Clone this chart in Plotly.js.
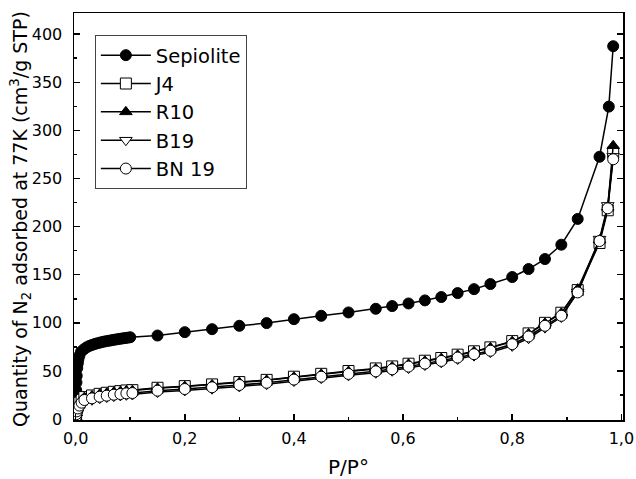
<!DOCTYPE html>
<html>
<head>
<meta charset="utf-8">
<script src="https://cdn.plot.ly/plotly-3.0.1.min.js"></script>
<style>html,body{margin:0;padding:0;background:#fff;}#chart{width:636px;height:479px;}</style>
</head>
<body>
<div id="chart"></div>
<script>
// Sepiolite isotherm
const sepP = [0.0001, 0.0003, 0.0006, 0.001, 0.0015, 0.002, 0.003, 0.004, 0.005, 0.007, 0.01, 0.015, 0.02, 0.025, 0.03, 0.035, 0.04, 0.045, 0.05, 0.055, 0.06, 0.065, 0.07, 0.075, 0.08, 0.085, 0.09, 0.095, 0.1,
  0.15, 0.2, 0.25, 0.3, 0.35, 0.4, 0.45, 0.5, 0.55, 0.58, 0.61, 0.64, 0.67, 0.70, 0.73, 0.76, 0.80, 0.83, 0.86, 0.89, 0.92, 0.96, 0.977, 0.985];
const sepV = [4, 12, 20, 30, 38, 45, 53, 58, 62, 66, 70, 72.5, 74.5, 76, 77, 78, 78.8, 79.5, 80.2, 80.8, 81.3, 81.8, 82.3, 82.8, 83.3, 83.7, 84.1, 84.5, 85,
  86.8, 90.3, 93.4, 96.9, 99.7, 103.8, 107.3, 110.8, 114.6, 117.4, 120.1, 123.3, 126.8, 130.9, 135, 140.3, 147.6, 155.9, 166.3, 181.2, 208, 272.6, 324.7, 387.5];

// Common relative pressures for the modified samples
const modP = [0.0003, 0.001, 0.002, 0.004, 0.007, 0.011, 0.016, 0.03, 0.044, 0.057, 0.07, 0.082, 0.093, 0.104,
  0.15, 0.2, 0.25, 0.3, 0.35, 0.4, 0.45, 0.5, 0.55, 0.58, 0.61, 0.64, 0.67, 0.70, 0.73, 0.76, 0.80, 0.83, 0.86, 0.89, 0.92, 0.96, 0.975, 0.985];
const j4V = [3, 7, 11, 14, 17, 20, 22.8, 24.5, 26.2, 27.3, 28.3, 29, 29.7, 30,
  32.5, 34.2, 36, 38.4, 40.7, 44, 47, 49.9, 52.6, 54.7, 57.5, 60.6, 63.4, 66.9, 70.4, 74.5, 81, 89, 100, 110.5, 134, 183, 217, 277];
const r10V = [2.5, 6.5, 10.5, 13.5, 16.5, 19.5, 22.3, 24, 25.7, 26.8, 27.8, 28.5, 29.2, 29.5,
  32, 33.7, 35.5, 37.9, 40.2, 43.5, 46.5, 49.4, 52.1, 54.2, 57, 60.1, 62.9, 66.4, 69.9, 74, 80.5, 88.5, 99.5, 110, 135, 186, 220, 284];
const b19V = [1, 4, 7, 9.5, 12.5, 15.5, 18.3, 20, 21.7, 22.8, 23.8, 24.5, 25.2, 25.5,
  28, 29.7, 31.5, 33.9, 36.2, 39.5, 42.5, 45.4, 48.1, 50.2, 53, 56.1, 58.9, 62.4, 65.9, 69.5, 76, 84, 95, 106, 132, 187, 222, 273];
const bn19V = [2, 5, 8, 11, 14, 17, 19.8, 21.5, 23.2, 24.3, 25.3, 26, 26.7, 27,
  29.5, 31.2, 33, 35.4, 37.7, 41, 44, 46.9, 49.6, 51.7, 54.5, 57.6, 60.4, 63.9, 67.4, 71, 77.8, 85.8, 96.9, 107.3, 131.6, 185, 219, 270];

const seriesNames = ['Sepiolite', 'J4', 'R10', 'B19', 'BN 19'];
const xTickVals = [0, 0.2, 0.4, 0.6, 0.8, 1.0];
const xTickText = ['0,0', '0,2', '0,4', '0,6', '0,8', '1,0'];
const yTickVals = [0, 50, 100, 150, 200, 250, 300, 350, 400];
const yTitle = 'Quantity of N<sub>2</sub> adsorbed at 77K (cm<sup>3</sup>/g STP)';
const xTitle = 'P/P°';

const FONT = 'DejaVu Sans, sans-serif';
const lineStyle = {color: '#000', width: 1.5};
function tr(name, x, y, symbol, fill, grp) {
  return {
    type: 'scatter', mode: 'lines+markers', name: name, x: x, y: y,
    legendgroup: grp,
    line: lineStyle,
    marker: {symbol: symbol, size: 11, color: fill, line: {color: '#000', width: 1}}
  };
}
const data = [
  tr(seriesNames[0], sepP, sepV, 'circle', '#000', 'a'),
  tr(seriesNames[1], modP, j4V, 'square', '#fff', 'b'),
  tr(seriesNames[2], modP, r10V, 'triangle-up', '#000', 'c'),
  tr(seriesNames[3], modP, b19V, 'triangle-down', '#fff', 'd'),
  tr(seriesNames[4], modP, bn19V, 'circle', '#fff', 'e')
];

const axisCommon = {
  showgrid: false, zeroline: false, showline: true, linecolor: '#000', linewidth: 1.5,
  ticks: 'inside', ticklen: 6, tickwidth: 1.5, tickcolor: '#000',
  tickfont: {family: FONT, size: 16, color: '#000'}
};
const layout = {
  width: 636, height: 479,
  margin: {l: 74, r: 13, t: 13, b: 59},
  paper_bgcolor: '#fff', plot_bgcolor: '#fff',
  showlegend: true,
  legend: {
    x: 0.038, y: 0.946, xanchor: 'left', yanchor: 'top',
    bordercolor: '#444', borderwidth: 1, bgcolor: '#fff',
    font: {family: FONT, size: 19.5, color: '#000'},
    traceorder: 'grouped', tracegroupgap: 0, itemwidth: 50
  },
  xaxis: Object.assign({}, axisCommon, {
    range: [-0.003, 1.003], tickvals: xTickVals, ticktext: xTickText, mirror: true,
    ticklabelstandoff: 3,
    minor: {dtick: 0.1, ticks: 'inside', ticklen: 3, tickwidth: 1.5, tickcolor: '#000'},
    title: {text: xTitle, font: {family: FONT, size: 20, color: '#000'}, standoff: 15}
  }),
  yaxis: Object.assign({}, axisCommon, {
    range: [-1, 422], tickvals: yTickVals, mirror: 'allticks',
    ticklabelstandoff: 7,
    minor: {dtick: 25, ticks: 'inside', ticklen: 3, tickwidth: 1.5, tickcolor: '#000'}
  }),
  annotations: [{
    text: yTitle, xref: 'paper', yref: 'paper', x: -0.0965, y: 0.494,
    xanchor: 'center', yanchor: 'middle', textangle: -90, showarrow: false,
    font: {family: FONT, size: 19, color: '#000'}
  }]
};
Plotly.newPlot('chart', data, layout, {displayModeBar: false, staticPlot: true});
</script>
</body>
</html>
